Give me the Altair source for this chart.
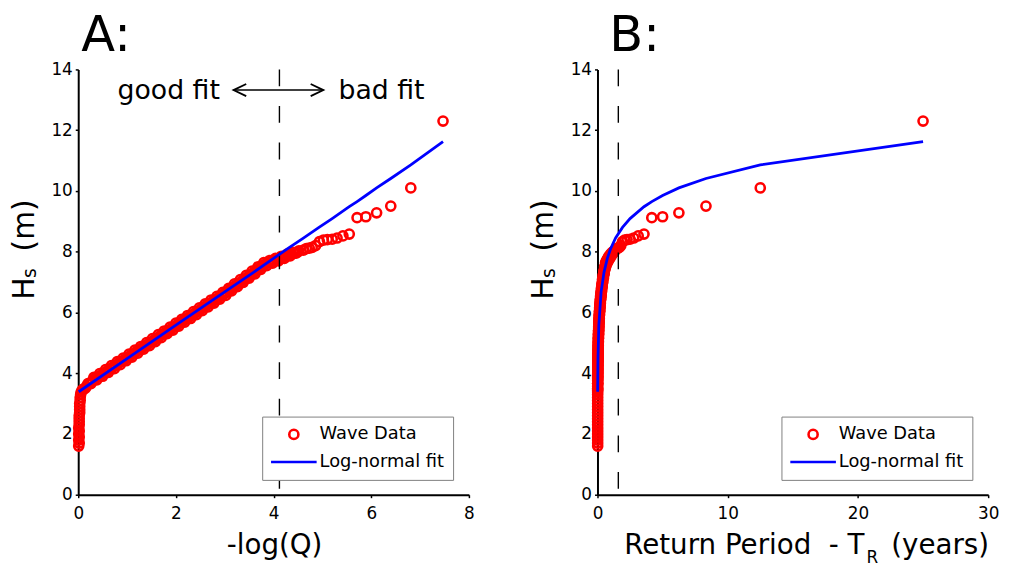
import altair as alt
import pandas as pd

FONT = "DejaVu Sans"
SERIES = ["Wave Data", "Log-normal fit"]
COLORS = ["#ff0000", "#0000ff"]

# ---- Wave data ----
# lowest waves: vertical band at -log(Q) ~ 0
low_logq = [0.01, 0.02, 0.01, 0.02, 0.01, 0.02, 0.01, 0.02, 0.02, 0.02,
            0.02, 0.03, 0.03, 0.03, 0.03, 0.04, 0.04, 0.05, 0.06]
low_tr = [0.0140, 0.0141, 0.0140, 0.0141, 0.0140, 0.0141, 0.0140, 0.0141, 0.0141, 0.0141,
          0.0141, 0.0142, 0.0142, 0.0142, 0.0142, 0.0144, 0.0144, 0.0145, 0.0147]
low_hs = [1.60, 1.70, 1.80, 1.90, 2.00, 2.10, 2.20, 2.30, 2.40, 2.50,
          2.60, 2.70, 2.80, 2.90, 3.00, 3.10, 3.20, 3.30, 3.38]

# dense band along the fit (outer rows)
band_logq = [0.08, 0.14, 0.20, 0.26, 0.32, 0.38, 0.44, 0.50, 0.56, 0.62,
             0.68, 0.74, 0.80, 0.86, 0.92, 0.98, 1.04, 1.10, 1.16, 1.22,
             1.28, 1.34, 1.40, 1.46, 1.52, 1.58, 1.64, 1.70, 1.76, 1.82,
             1.88, 1.94, 2.00, 2.06, 2.12, 2.18, 2.24, 2.30, 2.36, 2.42,
             2.48, 2.54, 2.60, 2.66, 2.72, 2.78, 2.84, 2.90, 2.96, 3.02,
             3.08, 3.14, 3.20, 3.26, 3.32, 3.38, 3.44, 3.50, 3.56, 3.62,
             3.68, 3.74, 3.80, 3.86, 3.92, 3.98, 4.04, 4.10, 4.16, 4.22,
             4.28, 4.34, 4.40, 4.46, 4.52]
band_tr = [0.0150, 0.0159, 0.0169, 0.0179, 0.0190, 0.0202, 0.0215, 0.0228, 0.0242, 0.0257,
           0.0273, 0.0290, 0.0308, 0.0327, 0.0347, 0.0368, 0.0391, 0.0415, 0.0441, 0.0468,
           0.0497, 0.0528, 0.0561, 0.0595, 0.0632, 0.0671, 0.0713, 0.0757, 0.0804, 0.0853,
           0.0906, 0.0962, 0.1022, 0.1085, 0.1152, 0.1223, 0.1299, 0.1379, 0.1465, 0.1555,
           0.1651, 0.1753, 0.1862, 0.1977, 0.2099, 0.2229, 0.2367, 0.2513, 0.2668, 0.2833,
           0.3009, 0.3195, 0.3393, 0.3602, 0.3825, 0.4061, 0.4313, 0.4579, 0.4862, 0.5163,
           0.5482, 0.5822, 0.6181, 0.6564, 0.6970, 0.7401, 0.7859, 0.8344, 0.8860, 0.9408,
           0.9989, 1.061, 1.126, 1.196, 1.270]
band_hs = [3.44, 3.50, 3.66, 3.66, 3.86, 3.78, 3.99, 3.90, 4.12, 4.03,
           4.25, 4.15, 4.38, 4.28, 4.50, 4.41, 4.63, 4.53, 4.76, 4.66,
           4.88, 4.79, 5.01, 4.91, 5.14, 5.04, 5.27, 5.17, 5.39, 5.30,
           5.52, 5.42, 5.65, 5.55, 5.77, 5.68, 5.90, 5.80, 6.03, 5.93,
           6.15, 6.06, 6.28, 6.18, 6.41, 6.31, 6.53, 6.44, 6.66, 6.56,
           6.79, 6.71, 6.94, 6.85, 7.08, 6.99, 7.22, 7.13, 7.36, 7.27,
           7.50, 7.42, 7.64, 7.54, 7.71, 7.62, 7.78, 7.70, 7.85, 7.78,
           7.92, 7.86, 7.98, 7.95, 8.03]

# dense band along the fit (middle row)
mid_logq = [0.11, 0.17, 0.23, 0.29, 0.35, 0.41, 0.47, 0.53, 0.59, 0.65,
            0.71, 0.77, 0.83, 0.89, 0.95, 1.01, 1.07, 1.13, 1.19, 1.25,
            1.31, 1.37, 1.43, 1.49, 1.55, 1.61, 1.67, 1.73, 1.79, 1.85,
            1.91, 1.97, 2.03, 2.09, 2.15, 2.21, 2.27, 2.33, 2.39, 2.45,
            2.51, 2.57, 2.63, 2.69, 2.75, 2.81, 2.87, 2.93, 2.99, 3.05,
            3.11, 3.17, 3.23, 3.29, 3.35, 3.41, 3.47, 3.53, 3.59, 3.65,
            3.71, 3.77, 3.83, 3.89, 3.95, 4.01, 4.07, 4.13, 4.19, 4.25,
            4.31, 4.37, 4.43, 4.49]
mid_tr = [0.0155, 0.0164, 0.0174, 0.0184, 0.0196, 0.0208, 0.0222, 0.0235, 0.0249, 0.0265,
          0.0281, 0.0299, 0.0317, 0.0337, 0.0358, 0.0379, 0.0403, 0.0428, 0.0454, 0.0482,
          0.0512, 0.0544, 0.0578, 0.0613, 0.0651, 0.0691, 0.0735, 0.0780, 0.0828, 0.0879,
          0.0934, 0.0991, 0.1053, 0.1118, 0.1187, 0.1260, 0.1339, 0.1421, 0.1510, 0.1602,
          0.1701, 0.1806, 0.1919, 0.2037, 0.2163, 0.2297, 0.2439, 0.2590, 0.2749, 0.2919,
          0.3101, 0.3292, 0.3496, 0.3712, 0.3941, 0.4185, 0.4444, 0.4719, 0.5010, 0.5320,
          0.5649, 0.5999, 0.6369, 0.6764, 0.7182, 0.7627, 0.8098, 0.8598, 0.9130, 0.9695,
          1.029, 1.093, 1.160, 1.232]
mid_hs = [3.48, 3.57, 3.66, 3.75, 3.82, 3.88, 3.94, 4.01, 4.07, 4.14,
          4.20, 4.26, 4.33, 4.39, 4.45, 4.52, 4.58, 4.64, 4.71, 4.77,
          4.83, 4.90, 4.96, 5.02, 5.09, 5.15, 5.22, 5.28, 5.34, 5.41,
          5.47, 5.53, 5.60, 5.66, 5.72, 5.79, 5.85, 5.91, 5.98, 6.04,
          6.10, 6.17, 6.23, 6.29, 6.36, 6.42, 6.48, 6.55, 6.61, 6.67,
          6.75, 6.82, 6.89, 6.96, 7.03, 7.10, 7.17, 7.24, 7.31, 7.39,
          7.46, 7.53, 7.59, 7.63, 7.66, 7.70, 7.74, 7.77, 7.81, 7.85,
          7.88, 7.92, 7.96, 7.99]

# largest waves (sparse tail)
tail_logq = [4.61, 4.67, 4.73, 4.79, 4.86, 4.94, 5.02, 5.10, 5.20, 5.30,
             5.42, 5.55, 5.71, 5.89, 6.11, 6.40, 6.81, 7.47]
tail_tr = [1.39, 1.47, 1.56, 1.67, 1.79, 1.92, 2.08, 2.27, 2.50, 2.78,
           3.125, 3.57, 4.17, 5.00, 6.25, 8.33, 12.5, 25.0]
tail_hs = [8.05, 8.10, 8.12, 8.14, 8.20, 8.33, 8.38, 8.40, 8.41, 8.45,
           8.52, 8.58, 9.12, 9.15, 9.28, 9.50, 10.10, 12.30]

# ---- Log-normal fit ----
fit_logq = [0.01, 1.0, 2.0, 3.0, 3.59, 4.0, 4.28, 4.61, 4.93, 5.20, 5.55,
            5.71, 5.89, 6.11, 6.40, 6.81, 7.47]
fit_tr = [0.0140, 0.0376, 0.102, 0.278, 0.50, 0.755, 1.0, 1.39, 1.92, 2.5, 3.57,
          4.17, 5.0, 6.25, 8.33, 12.5, 25.0]
fit_hs = [3.39, 4.48, 5.58, 6.68, 7.32, 7.78, 8.09, 8.45, 8.80, 9.09, 9.48,
          9.65, 9.85, 10.10, 10.41, 10.86, 11.62]

# dashed limits
cut_logq = 4.12
cut_tr = 1.6

# ticks
x_ticks_a = [0, 2, 4, 6, 8]
x_ticks_b = [0, 10, 20, 30]
y_ticks = [0, 2, 4, 6, 8, 10, 12, 14]

# "good fit <-> bad fit" annotation (data coordinates of panel A)
arrow_logq = [3.18, 5.02]
arrow_hs = [13.32, 13.32]
head_id = ["l", "l", "l", "r", "r", "r"]
head_ord = [0, 1, 2, 0, 1, 2]
head_logq = [3.44, 3.18, 3.44, 4.76, 5.02, 4.76]
head_hs = [13.52, 13.32, 13.12, 13.52, 13.32, 13.12]
note_text = ["good fit", "bad fit"]
note_logq = [2.90, 5.33]
note_hs = [13.03, 13.03]
note_align = ["right", "left"]

W, H = 395, 430

waves = pd.DataFrame({
    "logq": low_logq + band_logq + mid_logq + tail_logq,
    "tr": low_tr + band_tr + mid_tr + tail_tr,
    "hs": low_hs + band_hs + mid_hs + tail_hs,
})
waves["series"] = SERIES[0]
fit = pd.DataFrame({"logq": fit_logq, "tr": fit_tr, "hs": fit_hs})
fit["series"] = SERIES[1]

color_scale = alt.Scale(domain=SERIES, range=COLORS)
shape_scale = alt.Scale(domain=SERIES, range=["circle", "M-5,0H5"])


def make_legend():
    return alt.Legend(title=None, orient="none", legendX=186, legendY=351,
                      direction="vertical", padding=9, strokeColor="#808080",
                      fillColor="white", labelFont=FONT, labelFontSize=18,
                      labelColor="black", symbolSize=85, symbolStrokeWidth=2.6,
                      symbolOffset=14, labelOffset=17, rowPadding=9, labelLimit=300)


def text_piece(txt, size, x, y, angle=0, align="left"):
    return alt.Chart(pd.DataFrame({"t": [txt]})).mark_text(
        font=FONT, fontSize=size, angle=angle, align=align,
        baseline="alphabetic", color="black"
    ).encode(text="t:N", x=alt.value(x), y=alt.value(y))


def y_title():
    return [
        text_piece("H", 30, -45, 233, angle=270),
        text_piece("s", 19, -43, 211, angle=270),
        text_piece("(m)", 30, -45, 184, angle=270),
    ]


def panel(xfield, xdom, xticks, cut, letter, dx, extra):
    x_enc = alt.X(f"{xfield}:Q",
                  scale=alt.Scale(domain=xdom, nice=False, zero=False),
                  axis=alt.Axis(values=xticks, title=None, format="d",
                                labelPadding=8, labelFlush=False))
    y_enc = alt.Y("hs:Q", scale=alt.Scale(domain=[0, 14], nice=False),
                  axis=alt.Axis(values=y_ticks, title=None, format="d",
                                labelPadding=3, labelFlush=False))
    rule = alt.Chart(pd.DataFrame({xfield: [cut]})).mark_rule(
        color="black", strokeWidth=1.4, strokeDash=[17, 20]
    ).encode(x=f"{xfield}:Q")
    pts = alt.Chart(waves).mark_point(
        filled=False, size=85, strokeWidth=2.6, opacity=1
    ).encode(
        x=x_enc, y=y_enc,
        color=alt.Color("series:N", scale=color_scale, legend=make_legend()),
        shape=alt.Shape("series:N", scale=shape_scale, legend=make_legend()),
    )
    line = alt.Chart(fit).mark_line(strokeWidth=2.8).encode(
        x=f"{xfield}:Q", y="hs:Q",
        color=alt.Color("series:N", scale=color_scale, legend=make_legend()),
    )
    letter_mark = text_piece(letter, 50, dx, -19)
    layers = [pts, rule, line] + extra + y_title() + [letter_mark]
    return alt.layer(*layers).properties(width=W, height=H)


arrow_df = pd.DataFrame({"logq": arrow_logq, "hs": arrow_hs})
head_df = pd.DataFrame({"logq": head_logq, "hs": head_hs, "id": head_id, "ord": head_ord})
note_df = pd.DataFrame({"logq": note_logq, "hs": note_hs, "t": note_text, "al": note_align})

arrow = alt.Chart(arrow_df).mark_line(color="black", strokeWidth=1.5).encode(
    x="logq:Q", y="hs:Q")
heads = alt.Chart(head_df).mark_line(color="black", strokeWidth=1.8).encode(
    x="logq:Q", y="hs:Q", detail="id:N", order="ord:Q")
note_l = alt.Chart(note_df[note_df.al == "right"]).mark_text(
    font=FONT, fontSize=27, align="right", baseline="alphabetic", color="black"
).encode(x="logq:Q", y="hs:Q", text="t:N")
note_r = alt.Chart(note_df[note_df.al == "left"]).mark_text(
    font=FONT, fontSize=27, align="left", baseline="alphabetic", color="black"
).encode(x="logq:Q", y="hs:Q", text="t:N")

extra_a = [arrow, heads, note_l, note_r,
           text_piece("-log(Q)", 28, 198.5, 490, align="center")]
extra_b = [text_piece("Return Period\u00a0\u00a0- T", 28, 270, 490, align="right"),
           text_piece("R", 17, 272, 499),
           text_piece("(years)", 28, 297, 490)]

panel_a = panel("logq", [0, 8], x_ticks_a, cut_logq, "A:", 3, extra_a)
panel_b = panel("tr", [0, 30], x_ticks_b, cut_tr, "B:", 12, extra_b)

chart = alt.hconcat(panel_a, panel_b, spacing=130, bounds="flush").resolve_scale(
    x="independent", y="independent", color="independent", shape="independent"
).resolve_legend(
    color="independent", shape="independent"
).configure_view(stroke=None).configure_axis(
    domainColor="black", domainWidth=2, tickColor="black", tickWidth=1.5,
    tickSize=3, labelFont=FONT, labelFontSize=17, labelColor="black", grid=False
).properties(padding={"left": 2, "top": 0, "right": 5, "bottom": 0})

chart.save("out.html", embed_options={"renderer": "svg", "actions": False})
